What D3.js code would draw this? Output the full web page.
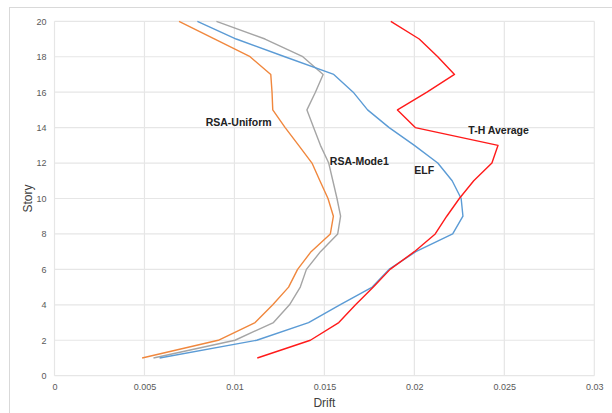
<!DOCTYPE html>
<html>
<head>
<meta charset="utf-8">
<script src="https://cdn.jsdelivr.net/npm/d3@7"></script>
<style>
body { margin: 0; background: #fff; }
svg { display: block; }
</style>
</head>
<body>
<svg id="chart" width="612" height="413"></svg>
<script>
const stories = [1,2,3,4,5,6,7,8,9,10,11,12,13,14,15,16,17,18,19,20];
const elf = [0.00584,0.01124,0.01412,0.01586,0.01766,0.01859,0.02008,0.02213,0.0227,0.0226,0.0221,0.0213,0.0200,0.0186,0.0174,0.0166,0.01552,0.0128,0.0101,0.00794];
const thAverage = [0.01127,0.01422,0.0158,0.01673,0.01772,0.01865,0.0200,0.02116,0.0218,0.0225,0.0233,0.02431,0.02465,0.02005,0.01906,0.0207,0.02223,0.0213,0.02027,0.01869];
const rsaUniform = [0.00487,0.0091,0.01115,0.01213,0.01301,0.01351,0.01426,0.01533,0.0155,0.0152,0.01475,0.01431,0.01357,0.01282,0.01213,0.01209,0.01202,0.01087,0.00891,0.00692];
const rsaMode1 = [0.0055,0.01003,0.01217,0.01306,0.01366,0.0140,0.01478,0.01574,0.0159,0.0157,0.01547,0.01524,0.01478,0.0144,0.01403,0.0145,0.01493,0.0138,0.0117,0.0090];
const xTicks = [0,0.005,0.01,0.015,0.02,0.025,0.03];
const yTicks = [0,2,4,6,8,10,12,14,16,18,20];
const seriesNames = ["RSA-Uniform","RSA-Mode1","ELF","T-H Average"];
const seriesColors = ["#F0873D","#A5A5A5","#5B9BD5","#FF1A1A"];
const labelPos = [[0.0084,14.1],[0.0153,11.9],[0.0200,11.4],[0.0230,13.65]]; // [drift, story] anchor for annotations

const svg = d3.select("#chart");
const pLeft = 54.5, pRight = 594.3, pTop = 21.3, pBottom = 375.7;
const x = d3.scaleLinear().domain([0,0.03]).range([pLeft,pRight]);
const y = d3.scaleLinear().domain([0,20]).range([pBottom,pTop]);

// outer frame
svg.append("rect").attr("x",9.5).attr("y",7.5).attr("width",640).attr("height",440)
  .attr("fill","none").attr("stroke","#d9d9d9").attr("stroke-width",1);

// gridlines
svg.append("g").selectAll("line").data(xTicks).join("line")
  .attr("x1",d=>x(d)).attr("x2",d=>x(d)).attr("y1",pTop).attr("y2",pBottom)
  .attr("stroke","#e6e6e6").attr("stroke-width",1.2);
svg.append("g").selectAll("line").data(yTicks).join("line")
  .attr("x1",pLeft).attr("x2",pRight).attr("y1",d=>y(d)).attr("y2",d=>y(d))
  .attr("stroke","#e6e6e6").attr("stroke-width",1.2);

// axes (labels only)
const xAxis = d3.axisBottom(x).tickValues(xTicks).tickFormat(d=>String(+d.toFixed(3))).tickSize(0).tickPadding(8);
const gx = svg.append("g").attr("transform",`translate(0,${pBottom})`).call(xAxis);
gx.select(".domain").remove();
gx.selectAll("text").attr("font-family","Liberation Sans, Arial, sans-serif").attr("font-size","9px").attr("fill","#595959");

const yAxis = d3.axisLeft(y).tickValues(yTicks).tickSize(0).tickPadding(8);
const gy = svg.append("g").attr("transform",`translate(${pLeft},0)`).call(yAxis);
gy.select(".domain").remove();
gy.selectAll("text").attr("font-family","Liberation Sans, Arial, sans-serif").attr("font-size","9px").attr("fill","#595959");

// axis titles
svg.append("text").attr("x",(pLeft+pRight)/2).attr("y",407).attr("text-anchor","middle")
  .attr("font-family","Liberation Sans, Arial, sans-serif").attr("font-size","12px").attr("fill","#404040").text("Drift");
svg.append("text").attr("transform",`translate(32,${(pTop+pBottom)/2}) rotate(-90)`).attr("text-anchor","middle")
  .attr("font-family","Liberation Sans, Arial, sans-serif").attr("font-size","12px").attr("fill","#404040").text("Story");

// lines
const data = [rsaUniform, rsaMode1, elf, thAverage];
const line = d3.line().x(d=>x(d[0])).y(d=>y(d[1]));
data.forEach((vals,i)=>{
  svg.append("path").datum(vals.map((v,j)=>[v,stories[j]]))
    .attr("d",line).attr("fill","none").attr("stroke",seriesColors[i]).attr("stroke-width",1.4)
    .attr("stroke-linejoin","round");
});

// annotations
seriesNames.forEach((n,i)=>{
  svg.append("text").attr("x",x(labelPos[i][0])).attr("y",y(labelPos[i][1]))
    .attr("font-family","Liberation Sans, Arial, sans-serif").attr("font-size","10.5px").attr("font-weight","bold")
    .attr("fill","#222").text(n);
});
</script>
</body>
</html>
